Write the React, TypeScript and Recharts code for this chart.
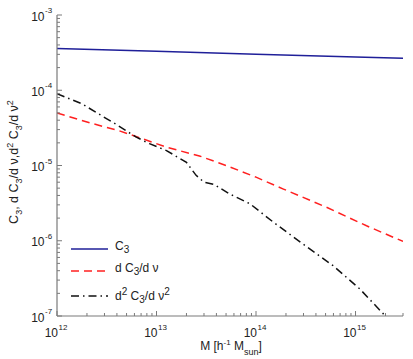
import React from 'react';
import { LineChart, Line, XAxis, YAxis, Legend, Label } from 'recharts';

// halo mass samples and values
const massC3 = [1e12, 1e13, 1e14, 1e15, 3e15];
const valC3 = [3.6e-4, 3.3e-4, 3.02e-4, 2.77e-4, 2.66e-4];

const massD1 = [1.0e12, 2.2e12, 4.2e12, 6.8e12, 1.26e13, 2.7e13, 5.0e13, 1.0e14, 1.86e14, 5.1e14, 1.29e15, 3.0e15];
const valD1 = [5.0e-5, 3.65e-5, 2.9e-5, 2.33e-5, 1.75e-5, 1.34e-5, 1.0e-5, 7.0e-6, 4.9e-6, 2.79e-6, 1.58e-6, 9.8e-7];

const massD2 = [1.0e12, 1.78e12, 2.8e12, 3.9e12, 6.2e12, 8.5e12, 1.26e13, 2.0e13, 2.5e13, 3.0e13, 3.8e13, 5.4e13, 8.7e13, 1.48e14, 2.95e14, 5.9e14, 1.1e15, 1.9e15, 2.1e15];
const valD2 = [9.0e-5, 6.6e-5, 4.6e-5, 3.55e-5, 2.4e-5, 1.95e-5, 1.58e-5, 1.1e-5, 7.4e-6, 6.0e-6, 5.6e-6, 4.2e-6, 3.1e-6, 1.78e-6, 9.1e-7, 4.7e-7, 2.3e-7, 1.07e-7, 8.9e-8];

const xTicks = [
  1e12, 2e12, 3e12, 4e12, 5e12, 6e12, 7e12, 8e12, 9e12,
  1e13, 2e13, 3e13, 4e13, 5e13, 6e13, 7e13, 8e13, 9e13,
  1e14, 2e14, 3e14, 4e14, 5e14, 6e14, 7e14, 8e14, 9e14,
  1e15, 2e15, 3e15,
];
const yTicks = [
  1e-7, 2e-7, 3e-7, 4e-7, 5e-7, 6e-7, 7e-7, 8e-7, 9e-7,
  1e-6, 2e-6, 3e-6, 4e-6, 5e-6, 6e-6, 7e-6, 8e-6, 9e-6,
  1e-5, 2e-5, 3e-5, 4e-5, 5e-5, 6e-5, 7e-5, 8e-5, 9e-5,
  1e-4, 2e-4, 3e-4, 4e-4, 5e-4, 6e-4, 7e-4, 8e-4, 9e-4,
  1e-3,
];

const c3Data = massC3.map((m, i) => ({ m, v: valC3[i] }));
const d1Data = massD1.map((m, i) => ({ m, v: valD1[i] }));
const d2Data = massD2.map((m, i) => ({ m, v: valD2[i] }));

const FONT = 'Liberation Sans, Arial, sans-serif';
const AXIS = '#7a7a7a';
const TXT = '#222';

const exponent = (v: number) => Math.round(Math.log10(v));
const isMajor = (v: number) => Math.abs(Math.log10(v) - exponent(v)) < 1e-6;

const BottomTick = (props: any) => {
  const { x, y, payload } = props;
  const major = isMajor(payload.value);
  return (
    <g>
      <line x1={x} x2={x} y1={y} y2={y - (major ? 5 : 3)} stroke={AXIS} />
      {major && (
        <g fontFamily={FONT} fill={TXT}>
          <text x={x + 1} y={y + 21} fontSize={12} textAnchor="end">10</text>
          <text x={x + 1.5} y={y + 14} fontSize={8}>{exponent(payload.value)}</text>
        </g>
      )}
    </g>
  );
};

const TopTick = (props: any) => {
  const { x, y, payload } = props;
  const major = isMajor(payload.value);
  return <line x1={x} x2={x} y1={y} y2={y + (major ? 5 : 3)} stroke={AXIS} />;
};

const LeftTick = (props: any) => {
  const { x, y, payload } = props;
  const major = isMajor(payload.value);
  return (
    <g>
      <line x1={x} x2={x + (major ? 5 : 3)} y1={y} y2={y} stroke={AXIS} />
      {major && (
        <g fontFamily={FONT} fill={TXT}>
          <text x={x - 12.5} y={y + 5.5} fontSize={12} textAnchor="end">10</text>
          <text x={x - 12} y={y - 2} fontSize={8}>{exponent(payload.value)}</text>
        </g>
      )}
    </g>
  );
};

const RightTick = (props: any) => {
  const { x, y, payload } = props;
  const major = isMajor(payload.value);
  return <line x1={x} x2={x - (major ? 5 : 3)} y1={y} y2={y} stroke={AXIS} />;
};

const XTitle = () => (
  <text x={231} y={350} textAnchor="middle" fontFamily={FONT} fontSize={12} fill={TXT}>
    M [h<tspan dy={-5} fontSize={8}>-1</tspan>
    <tspan dy={5}> M</tspan>
    <tspan dy={5} fontSize={9}>sun</tspan>
    <tspan dy={-5}>]</tspan>
  </text>
);

const YTitle = () => (
  <text
    transform="translate(18,162) rotate(-90)"
    textAnchor="middle"
    fontFamily={FONT}
    fontSize={12.5}
    fill={TXT}
  >
    C<tspan dy={4} fontSize={9}>3</tspan>
    <tspan dy={-4}>, d C</tspan>
    <tspan dy={4} fontSize={9}>3</tspan>
    <tspan dy={-4}>/d ν,d</tspan>
    <tspan dy={-5} fontSize={9}>2</tspan>
    <tspan dy={5}> C</tspan>
    <tspan dy={4} fontSize={9}>3</tspan>
    <tspan dy={-4}>/d ν</tspan>
    <tspan dy={-5} fontSize={9}>2</tspan>
  </text>
);

const legendRows = [
  { key: 'c3', color: '#1f1f99', dash: undefined, h: 21, label: <>C<sub>3</sub></> },
  { key: 'd1', color: '#ff2020', dash: '8 5', h: 23, label: <>d C<sub>3</sub>/d ν</> },
  { key: 'd2', color: '#111', dash: '8 4 1.5 4', h: 28, label: <>d<sup>2</sup> C<sub>3</sub>/d ν<sup>2</sup></> },
];

const LegendBox = () => (
  <div style={{ fontFamily: FONT, fontSize: 12, color: TXT, lineHeight: '12px' }}>
    {legendRows.map((r) => (
      <div key={r.key} style={{ display: 'flex', alignItems: 'center', height: r.h }}>
        <svg width={40} height={6} style={{ marginRight: 4 }}>
          <line x1={0} x2={37} y1={3} y2={3} stroke={r.color} strokeWidth={1.5} strokeDasharray={r.dash} />
        </svg>
        <span style={{ fontSize: 12 }}>{r.label}</span>
      </div>
    ))}
  </div>
);

export default function App() {
  return (
    <div style={{ position: 'absolute', left: 0, top: 0, width: 413, height: 359, background: '#fff' }}>
      <LineChart width={413} height={359} margin={{ top: 15, right: 10, bottom: 0, left: 0 }}>
        <XAxis
          dataKey="m"
          type="number"
          scale="log"
          domain={[1e12, 3e15]}
          allowDataOverflow
          ticks={xTicks}
          interval={0}
          tickSize={0}
          tickMargin={0}
          height={43}
          axisLine={{ stroke: AXIS, strokeWidth: 1.2 }}
          tick={<BottomTick />}
        >
          <Label content={<XTitle />} />
        </XAxis>
        <XAxis
          xAxisId="top"
          orientation="top"
          dataKey="m"
          type="number"
          scale="log"
          domain={[1e12, 3e15]}
          allowDataOverflow
          ticks={xTicks}
          interval={0}
          tickSize={0}
          tickMargin={0}
          height={0}
          axisLine={{ stroke: AXIS, strokeWidth: 1.2 }}
          tick={<TopTick />}
        />
        <YAxis
          type="number"
          scale="log"
          domain={[1e-7, 1e-3]}
          allowDataOverflow
          ticks={yTicks}
          interval={0}
          tickSize={0}
          tickMargin={0}
          width={57}
          axisLine={{ stroke: AXIS, strokeWidth: 1.2 }}
          tick={<LeftTick />}
        >
          <Label content={<YTitle />} />
        </YAxis>
        <YAxis
          yAxisId="right"
          orientation="right"
          type="number"
          scale="log"
          domain={[1e-7, 1e-3]}
          allowDataOverflow
          ticks={yTicks}
          interval={0}
          tickSize={0}
          tickMargin={0}
          width={0}
          axisLine={{ stroke: AXIS, strokeWidth: 1.2 }}
          tick={<RightTick />}
        />
        <Line data={c3Data} dataKey="v" stroke="#1f1f99" strokeWidth={1.5} dot={false} isAnimationActive={false} />
        <Line data={d1Data} dataKey="v" stroke="#ff2020" strokeWidth={1.5} strokeDasharray="8 5" dot={false} isAnimationActive={false} />
        <Line data={d2Data} dataKey="v" stroke="#111" strokeWidth={1.5} strokeDasharray="8 4 1.5 4" dot={false} isAnimationActive={false} />
        <Legend
          layout="horizontal"
          verticalAlign="middle"
          align="center"
          content={<LegendBox />}
          wrapperStyle={{ position: 'absolute', left: 71, top: 238, width: 'auto' }}
        />
      </LineChart>
    </div>
  );
}
